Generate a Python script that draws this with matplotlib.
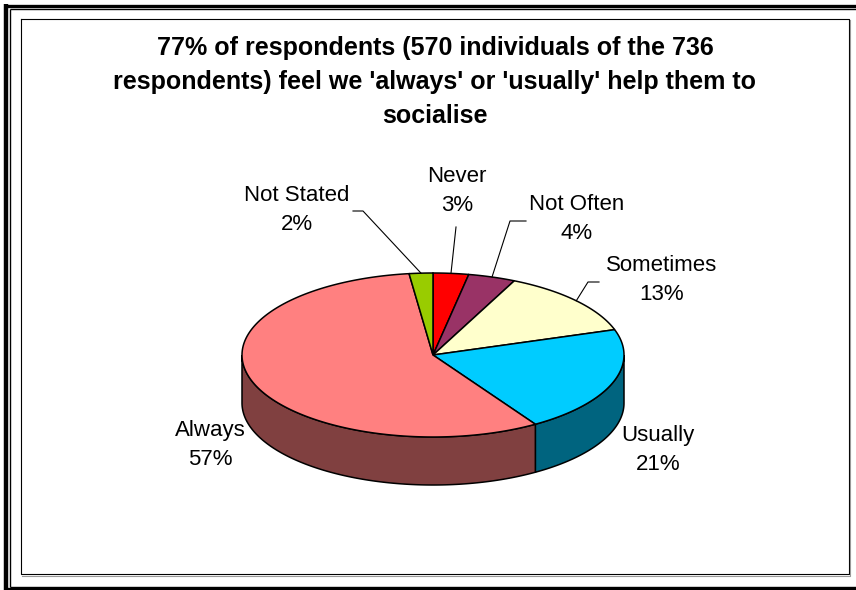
import matplotlib
matplotlib.use('Agg')
import matplotlib.pyplot as plt
import numpy as np

from matplotlib.patches import Polygon

categories = ['Never', 'Not Often', 'Sometimes', 'Usually', 'Always', 'Not Stated']
percents = [3, 4, 13, 21, 57, 2]
title = ("77% of respondents (570 individuals of the 736\n"
         "respondents) feel we 'always' or 'usually' help them to\n"
         "socialise")

top_colors = ['#FF0000', '#993366', '#FFFFCC', '#00CCFF', '#FF8080', '#99CC00']
side_colors = ['#800000', '#4C1A33', '#808066', '#00647F', '#804040', '#4C6600']

# label layout in pixels: text centre, and leader line points (elbow, end)
label_xy = [(457, 191), (577, 219), (662, 280), (658, 450), (210, 445), (297, 210)]
leaders = [[(456, 227)], [(510, 221), (526, 221)], [(588, 282), (599, 282)],
           None, None, [(363, 211), (353, 211)]]

W, H = 856, 590
cx, cy, rx, ry, depth = 433, 355, 191, 82, 48

plt.rcParams['font.family'] = ['Liberation Sans', 'DejaVu Sans']
fig = plt.figure(figsize=(W / 100, H / 100), dpi=100)
ax = fig.add_axes([0, 0, 1, 1])
ax.set_xlim(0, W)
ax.set_ylim(H, 0)
ax.axis('off')


def rim(t, dy=0):
    # point on the top ellipse, angle t in degrees clockwise from 12 o'clock
    t = np.radians(t)
    return np.column_stack([cx + rx * np.sin(t), cy - ry * np.cos(t) + dy])


frac = np.array(percents) / sum(percents)
edges = np.concatenate([[0], np.cumsum(frac) * 360])

# sides: only the front half (90..270 deg) can be seen
for i in range(len(percents)):
    a0, a1 = max(edges[i], 90), min(edges[i + 1], 270)
    if a1 <= a0:
        continue
    t = np.linspace(a0, a1, 150)
    pts = np.vstack([rim(t), rim(t[::-1], depth)])
    ax.add_patch(Polygon(pts, closed=True, fc=side_colors[i], ec='black', lw=1.1, zorder=2))

# top faces
for i in range(len(percents)):
    t = np.linspace(edges[i], edges[i + 1], 200)
    pts = np.vstack([[cx, cy], rim(t)])
    ax.add_patch(Polygon(pts, closed=True, fc=top_colors[i], ec='black', lw=1.1, zorder=3))

# labels and leader lines
for i, (cat, p) in enumerate(zip(categories, percents)):
    x, y = label_xy[i]
    ax.text(x, y, f'{cat}\n{p}%', ha='center', va='center', fontsize=16,
            linespacing=1.5, zorder=5)
    if leaders[i] is not None:
        mid = (edges[i] + edges[i + 1]) / 2
        pts = np.vstack([rim([mid]), np.array(leaders[i])])
        ax.plot(pts[:, 0], pts[:, 1], color='black', lw=0.8, zorder=4)

ax.text(435, 82, title, ha='center', va='center', fontsize=18, fontweight='bold',
        linespacing=1.55)

# frame: thick + thin double line outside, plain box inside
k = dict(color='black', solid_capstyle='butt', clip_on=False)
ax.plot([6, 6], [4, H], lw=3.2, **k)
ax.plot([4, W], [5.5, 5.5], lw=2.4, **k)
ax.plot([4, W], [589, 589], lw=2.4, **k)
ax.plot([10.5, 10.5], [9, 587], lw=1.0, **k)
ax.plot([10, W], [9, 9], lw=1.0, **k)
ax.plot([10, W], [586.5, 586.5], lw=1.0, **k)
ax.plot([21, 849, 849, 21, 21], [19, 19, 574, 574, 19], lw=0.8, color='black')
ax.plot([22, 850, 850], [575.5, 575.5, 20], lw=0.8, color='#999999')

fig.savefig('out.png', dpi=100)
